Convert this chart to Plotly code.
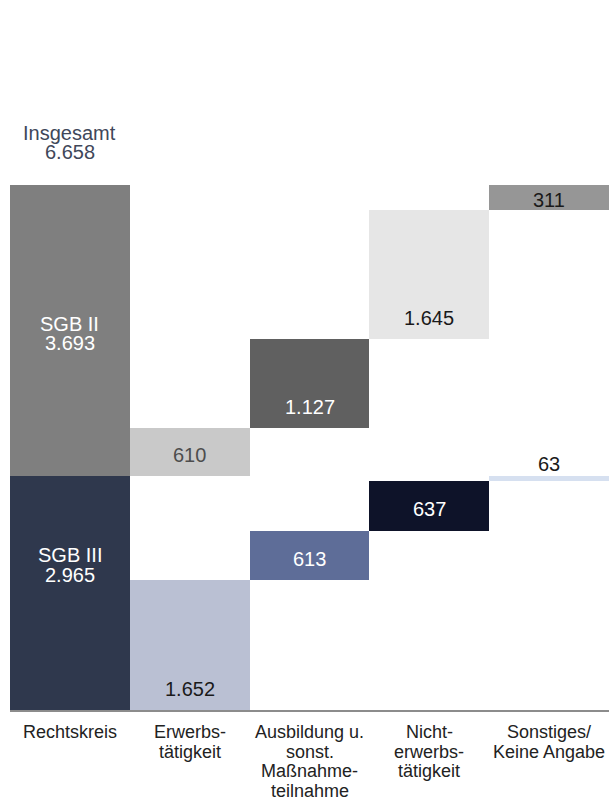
import plotly.graph_objects as go

# ---- data ----
categories = ["Rechtskreis", "Erwerbs-<br>tätigkeit", "Ausbildung u.<br>sonst.<br>Maßnahme-<br>teilnahme",
              "Nicht-<br>erwerbs-<br>tätigkeit", "Sonstiges/<br>Keine Angabe"]
sgb3_values = [2965, 1652, 613, 637, 63]
sgb2_values = [3693, 610, 1127, 1645, 311]
total_value = 6658
total_label = "Insgesamt"
series_names = ["SGB III", "SGB II"]

# ---- styles ----
sgb3_colors = ["#2f384d", "#bac0d3", "#5e6d98", "#0e1329", "#d6e0f0"]
sgb2_colors = ["#7f7f7f", "#c9c9c9", "#606060", "#e6e6e6", "#969696"]
sgb3_text_colors = ["#ffffff", "#1a1a1a", "#ffffff", "#ffffff", "#1a1a1a"]
sgb2_text_colors = ["#ffffff", "#4d4d4d", "#ffffff", "#1a1a1a", "#1a1a1a"]
sgb3_label_mode = ["upper", "bottom", "middle", "middle", "above"]
sgb2_label_mode = ["middle", "middle", "bottom", "bottom", "middle"]

FONT = "Liberation Sans, Arial, sans-serif"
LINE = 19.5  # line pitch in px


def fmt(v):
    return f"{v:,}".replace(",", ".")


sgb3_base = [0] + [sum(sgb3_values[1:i]) for i in range(1, len(sgb3_values))]
sgb2_base = [sgb3_values[0]] + [sgb3_values[0] + sum(sgb2_values[1:i]) for i in range(1, len(sgb2_values))]

x_idx = list(range(len(categories)))

fig = go.Figure()
fig.add_trace(go.Bar(x=x_idx, y=sgb3_values, base=sgb3_base, name=series_names[0],
                     marker=dict(color=sgb3_colors, line=dict(width=0)), hoverinfo="skip"))
fig.add_trace(go.Bar(x=x_idx, y=sgb2_values, base=sgb2_base, name=series_names[1],
                     marker=dict(color=sgb2_colors, line=dict(width=0)), hoverinfo="skip"))

annotations = []


def add_block(x, y, lines, center_shift, color, size):
    """Multi-line text as separate annotations; center_shift = px of block centre above y."""
    n = len(lines)
    for k, line in enumerate(lines):
        off = center_shift + ((n - 1) / 2 - k) * LINE
        annotations.append(dict(x=x, xref="x", y=y, yref="y", yanchor="middle", yshift=off,
                                text=line, showarrow=False,
                                font=dict(family=FONT, size=size, color=color)))


def add_labels(values, bases, modes, colors, prefix):
    for i, (v, b, m, c) in enumerate(zip(values, bases, modes, colors)):
        lines = [fmt(v)]
        if i == 0:
            lines = [prefix, fmt(v)]
        if m == "middle":
            add_block(i, b + v / 2, lines, -3, c, 20)
        elif m == "bottom":
            add_block(i, b, lines, 21, c, 20)
        elif m == "above":
            add_block(i, b + v, lines, 12, c, 20)
        elif m == "upper":
            add_block(i, b + v * 0.62, lines, 0, c, 20)


add_labels(sgb3_values, sgb3_base, sgb3_label_mode, sgb3_text_colors, series_names[0])
add_labels(sgb2_values, sgb2_base, sgb2_label_mode, sgb2_text_colors, series_names[1])

# total label above first column
add_block(0, total_value, [total_label, fmt(total_value)], 33 + LINE / 2, "#404759", 20)

# category labels below the axis
for i, cat in enumerate(categories):
    lines = cat.split("<br>")
    for k, line in enumerate(lines):
        annotations.append(dict(x=i, xref="x", y=0, yref="y", yanchor="middle",
                                yshift=-(22 + k * LINE), text=line, showarrow=False,
                                font=dict(family=FONT, size=18, color="#222222")))

fig.update_layout(
    width=609, height=804,
    margin=dict(l=10, r=0, t=185, b=94),
    paper_bgcolor="white", plot_bgcolor="white",
    barmode="overlay", bargap=0,
    showlegend=False,
    annotations=annotations,
    font=dict(family=FONT, size=18, color="#222222"),
)
fig.update_xaxes(range=[-0.5, len(categories) - 0.5], showticklabels=False,
                 showline=True, linecolor="#8c8c8c", linewidth=2,
                 showgrid=False, zeroline=False, ticks="")
fig.update_yaxes(range=[0, total_value], visible=False, showgrid=False, zeroline=False)

fig.write_html("out.html", config={"displayModeBar": False},
               post_script="document.body.style.margin='0';document.body.style.overflow='hidden';")
